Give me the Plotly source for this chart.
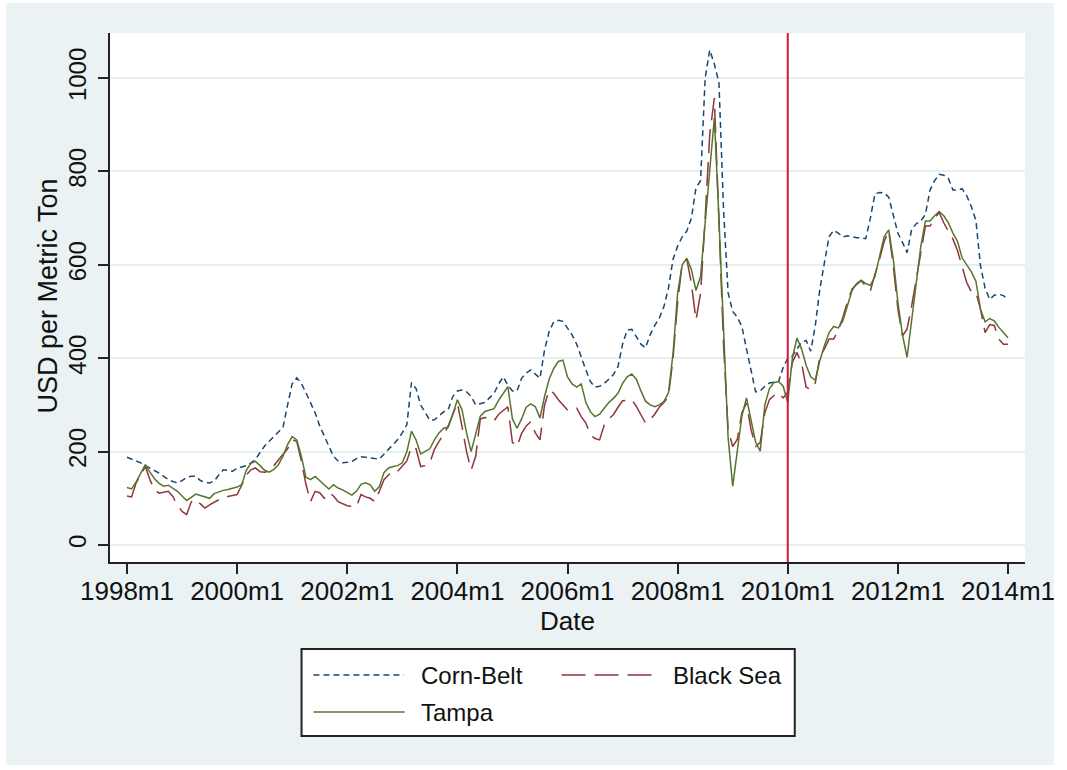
import plotly.graph_objects as go

# Monthly prices, USD per metric ton, 1998m1 .. 2014m1 (one row per year)
corn_belt = [
    188, 184, 180, 176, 170, 165, 160, 154, 147, 140, 136, 133,
    138, 145, 147, 147, 138, 134, 133, 137, 150, 161, 160, 158,
    164, 167, 170, 176, 183, 198, 212, 222, 232, 240, 252, 300,
    345, 358, 346, 326, 305, 283, 255, 232, 211, 190, 180, 176,
    177, 179, 185, 189, 188, 186, 185, 184, 195, 204, 215, 226,
    240, 258, 348, 335, 300, 282, 267, 268, 276, 285, 290, 318,
    330, 332, 328, 318, 300, 302, 305, 315, 325, 345, 360, 342,
    330, 330, 357, 368, 375, 366, 357, 418, 457, 478, 481, 479,
    465, 450, 430, 400, 375, 350, 338, 340, 346, 355, 365, 382,
    430, 460, 462, 446, 430, 422, 450, 470, 486, 510, 550, 612,
    640, 660, 672, 700, 765, 780, 1000, 1060, 1030, 990, 720, 540,
    500, 488, 468, 420, 370, 328, 330, 340, 347, 348, 350, 380,
    400, 405, 420, 434, 438, 415, 470, 548, 605, 660, 674, 668,
    660, 662, 660, 658, 658, 656, 700, 752, 755, 754, 745, 705,
    668, 648, 626, 676, 688, 694, 708, 760, 780, 794, 792, 785,
    760, 760, 763, 748, 725, 695, 598, 550, 526, 535, 537, 534,
    526,
]

black_sea = [
    105, 103, 133, 150, 168, 140, 118, 111, 113, 115, 104, 85,
    72, 65, 92, 98, 88, 79, 86, 92, 97, 100, 104, 106,
    108, 128, 150, 161, 165, 157, 156, 158, 170, 183, 195, 206,
    225, 222, 180, 130, 93, 115, 112, 100, 112, 105, 93, 88,
    84, 83, 82, 108, 103, 100, 93, 115, 140, 150, 159, 158,
    170, 180, 211, 206, 168, 170, 176, 205, 222, 236, 255, 280,
    304, 254, 200, 161, 190, 270, 273, 271, 266, 280, 289, 296,
    220, 211, 239, 255, 264, 240, 225, 300, 332, 325, 311, 300,
    289, 290, 293, 275, 261, 236, 228, 225, 257, 270, 279, 295,
    309, 310, 311, 297, 280, 261, 268, 280, 295, 305, 318, 400,
    520, 603, 612, 560, 482, 539, 700, 880, 957, 700, 430, 247,
    211, 226, 283, 304, 247, 211, 220, 283, 311, 320, 326, 315,
    327, 391, 412, 390, 338, 333, 347, 404, 420, 441, 441, 460,
    487, 520, 548, 558, 566, 555, 544, 580, 612, 650, 672, 598,
    505, 448, 462, 512, 570, 619, 683, 683, 700, 712, 690, 672,
    655, 630, 598, 562, 542, 541, 505, 455, 472, 470, 441, 430,
    430,
]

tampa = [
    123, 120, 135, 155, 172, 156, 142, 132, 126, 128, 122, 115,
    105, 95, 102, 109, 106, 103, 100, 110, 114, 117, 119, 121,
    124, 129, 160, 175, 179, 170, 160, 156, 162, 172, 190, 215,
    232, 225, 190, 145, 140, 147, 138, 130, 120, 129, 122, 118,
    113, 107, 115, 130, 133, 129, 115, 125, 155, 165, 168, 170,
    176, 200, 244, 225, 195, 200, 206, 225, 240, 250, 252, 280,
    311, 290, 240, 200, 235, 276, 286, 289, 292, 310, 325, 339,
    270, 250, 270, 295, 302, 296, 272, 318, 355, 378, 393, 396,
    360, 345, 338, 345, 305, 285, 275, 280, 293, 305, 314, 325,
    346, 360, 366, 355, 330, 308, 300, 296, 300, 307, 326, 410,
    540, 600, 614, 590, 545, 575, 690, 800, 915, 700, 450, 230,
    126, 200, 276, 315, 270, 220, 201, 300, 335, 348, 350, 340,
    305, 400, 443, 420, 385, 360, 353, 395, 427, 455, 468, 465,
    480, 510, 545, 560, 567, 560, 556, 575, 620, 660, 675, 612,
    520, 450, 402, 484, 555, 640, 694, 694, 705, 714, 705, 690,
    668, 650, 615, 600, 585, 565, 505, 478, 485, 480, 466, 455,
    444,
]

x_tick_labels = ["1998m1", "2000m1", "2002m1", "2004m1",
                 "2006m1", "2008m1", "2010m1", "2012m1", "2014m1"]
y_tick_values = [0, 200, 400, 600, 800, 1000]
series_names = ["Corn-Belt", "Black Sea", "Tampa"]
break_label = "2010m1"

months = list(range(len(corn_belt)))          # months since 1998m1
x_tick_months = [24 * i for i in range(len(x_tick_labels))]
break_month = x_tick_months[x_tick_labels.index(break_label)]

W, H = 1067, 770
ML, MR, MT, MB = 110, 35, 33, 208
PW, PH = W - ML - MR, H - MT - MB

def px_x(px):
    return (px - ML) / PW

def px_y(py):
    return (H - MB - py) / PH

FONT = "Liberation Sans, Arial, sans-serif"
TXT = "#111111"
NAVY, MAROON, GREEN = "#1a476f", "#90353b", "#55752f"
BG = "#eaf2f3"
styles = [
    dict(color=NAVY, width=1.5, dash="6px,4px"),
    dict(color=MAROON, width=1.5, dash="24px,9px"),
    dict(color=GREEN, width=1.5),
]

fig = go.Figure()
for name, ys, st in zip(series_names, [corn_belt, black_sea, tampa], styles):
    fig.add_trace(go.Scatter(x=months, y=ys, mode="lines", name=name,
                             line=st, showlegend=False))

shapes = [
    # outer tinted frame and the white plot region
    dict(type="rect", xref="paper", yref="paper", layer="below",
         x0=px_x(5), x1=px_x(1061), y0=px_y(765), y1=px_y(3),
         fillcolor=BG, line=dict(width=0)),
    dict(type="rect", xref="paper", yref="paper", layer="below",
         x0=0, x1=1, y0=0, y1=1, fillcolor="white", line=dict(width=0)),
    # structural break marker
    dict(type="line", xref="x", yref="paper", x0=break_month, x1=break_month,
         y0=0, y1=1, line=dict(color="#d4173f", width=2)),
    # legend box
    dict(type="rect", xref="paper", yref="paper",
         x0=px_x(303), x1=px_x(800), y0=px_y(736), y1=px_y(649),
         fillcolor="white", line=dict(color="#222222", width=2), layer="below"),
]

legend_slots = [(315, 406, 675, 421), (565, 658, 675, 675), (315, 407, 712, 421)]
annotations = []
for name, st, (lx0, lx1, ly, tx) in zip(series_names, styles, legend_slots):
    shapes.append(dict(type="line", xref="paper", yref="paper",
                       x0=px_x(lx0), x1=px_x(lx1), y0=px_y(ly), y1=px_y(ly),
                       line=st))
    annotations.append(dict(xref="paper", yref="paper", x=px_x(tx), y=px_y(ly),
                            text=name, showarrow=False, xanchor="left",
                            yanchor="middle",
                            font=dict(family=FONT, size=24, color=TXT)))

annotations += [
    dict(xref="paper", yref="paper", x=px_x(48), y=px_y(296),
         text="USD per Metric Ton", textangle=-90, showarrow=False,
         xanchor="center", yanchor="middle",
         font=dict(family=FONT, size=27, color=TXT)),
    dict(xref="paper", yref="paper", x=px_x(571), y=px_y(621),
         text="Date", showarrow=False, xanchor="center", yanchor="middle",
         font=dict(family=FONT, size=26, color=TXT)),
]

fig.update_layout(
    width=W, height=H,
    margin=dict(l=ML, r=MR, t=MT, b=MB, pad=0),
    paper_bgcolor="white", plot_bgcolor="white",
    font=dict(family=FONT, color=TXT),
    shapes=shapes, annotations=annotations,
    showlegend=False,
)
fig.update_xaxes(
    range=[-3.7, 195.7], tickvals=x_tick_months, ticktext=x_tick_labels,
    showgrid=False, zeroline=False, showline=True, linecolor="#222222",
    linewidth=2, ticks="outside", ticklen=10, tickwidth=2, tickcolor="#222222",
    tickfont=dict(family=FONT, size=26, color=TXT), ticklabelstandoff=-5,
)
fig.update_yaxes(
    range=[-36.4, 1096.4], tickvals=y_tick_values, tickangle=-90,
    showgrid=True, gridcolor="#e6eef0", gridwidth=1.5, zeroline=False,
    showline=True, linecolor="#222222", linewidth=2, ticks="outside",
    ticklen=10, tickwidth=2, tickcolor="#222222",
    tickfont=dict(family=FONT, size=24, color=TXT), ticklabelstandoff=2,
)

fig.write_html("out.html")
